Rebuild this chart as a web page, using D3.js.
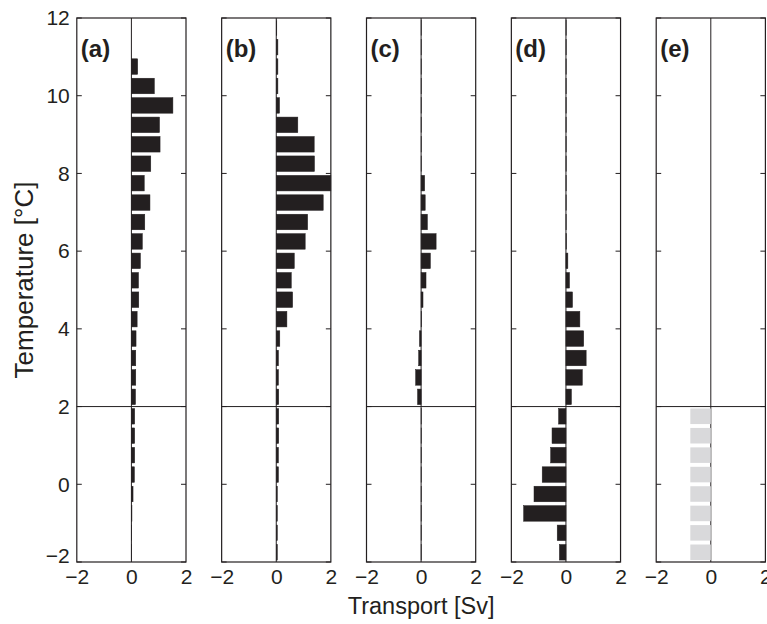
<!DOCTYPE html>
<html>
<head>
<meta charset="utf-8">
<script src="https://cdn.jsdelivr.net/npm/d3@7"></script>
<style>
  html, body { margin: 0; padding: 0; background: #fff; }
  svg text { font-family: "Liberation Sans", Arial, Helvetica, sans-serif; fill: #231f20; }
</style>
</head>
<body>
<svg id="chart" width="767" height="624"></svg>
<script>
// Temperature bin centres (°C), 0.5 °C bins from top to bottom
const tempBins = [11.75, 11.25, 10.75, 10.25, 9.75, 9.25, 8.75, 8.25, 7.75, 7.25,
                  6.75, 6.25, 5.75, 5.25, 4.75, 4.25, 3.75, 3.25, 2.75, 2.25,
                  1.75, 1.25, 0.75, 0.25, -0.25, -0.75, -1.25, -1.75];

// Transport per temperature bin (Sv), one series per panel
const transportA = [0, 0, 0.23, 0.84, 1.52, 1.03, 1.05, 0.71, 0.47, 0.68,
                    0.49, 0.40, 0.33, 0.26, 0.27, 0.21, 0.17, 0.16, 0.16, 0.15,
                    0.12, 0.12, 0.12, 0.11, 0.06, 0.02, 0.01, 0.01];
const transportB = [0.02, 0.06, 0.06, 0.06, 0.12, 0.79, 1.39, 1.40, 2.00, 1.72,
                    1.15, 1.06, 0.66, 0.55, 0.60, 0.39, 0.13, 0.08, 0.08, 0.09,
                    0.09, 0.09, 0.08, 0.08, 0.04, 0.04, 0.04, 0.04];
const transportC = [0.01, 0.01, 0.01, 0.01, 0.01, 0.01, 0.01, 0.01, 0.13, 0.15,
                    0.23, 0.55, 0.34, 0.18, 0.07, 0.02, -0.06, -0.09, -0.20, -0.13,
                    0.01, 0.01, 0.01, 0.01, 0.01, 0.01, 0.01, 0.01];
const transportD = [0.01, 0.01, 0.01, 0.01, 0.01, 0.01, 0.01, 0.01, 0.01, 0.01,
                    0.01, 0.02, 0.07, 0.13, 0.24, 0.51, 0.65, 0.74, 0.60, 0.20,
                    -0.27, -0.51, -0.56, -0.87, -1.17, -1.55, -0.32, -0.24];
const transportE = [null, null, null, null, null, null, null, null, null, null,
                    null, null, null, null, null, null, null, null, null, null,
                    -0.75, -0.75, -0.75, -0.75, -0.75, -0.75, -0.75, -0.75];

const panelLabels = ["(a)", "(b)", "(c)", "(d)", "(e)"];
const panelSeries = [transportA, transportB, transportC, transportD, transportE];
const panelColors = ["#231f20", "#231f20", "#231f20", "#231f20", "#d9d9db"];

const xTicks = [-2, 0, 2];
const yTicks = [-2, 0, 2, 4, 6, 8, 10, 12];
const xDomain = [-2, 2];
const yDomain = [-2, 12];
const splitTemp = 2;      // horizontal reference line
const barHalf = 0.2;      // half bar thickness in °C (bar width 0.8 of a 0.5 °C bin)

// Layout
const plotTop = 18, plotBottom = 562;
const firstLeft = 76.8, panelW = 109.2, step = 144.85;
const ink = "#231f20";
const tickFont = 21;

const svg = d3.select("#chart");
const y = d3.scaleLinear().domain(yDomain).range([plotBottom, plotTop]);
const fmt = d => (d < 0 ? "\u2212" + Math.abs(d) : String(d));

panelSeries.forEach((series, i) => {
  const left = firstLeft + i * step;
  const x = d3.scaleLinear().domain(xDomain).range([left, left + panelW]);
  const g = svg.append("g");

  // zero-transport line
  g.append("line")
    .attr("x1", x(0)).attr("x2", x(0)).attr("y1", plotTop).attr("y2", plotBottom)
    .attr("stroke", ink).attr("stroke-width", 1);

  // bars
  const rows = tempBins.map((t, k) => ({ t, v: series[k] })).filter(d => d.v !== null);
  g.selectAll("rect.bar").data(rows).join("rect")
    .attr("class", "bar")
    .attr("x", d => x(Math.min(0, d.v)))
    .attr("width", d => Math.abs(x(d.v) - x(0)))
    .attr("y", d => y(d.t + barHalf))
    .attr("height", d => y(d.t - barHalf) - y(d.t + barHalf))
    .attr("fill", panelColors[i])
    .attr("stroke", i < 4 ? panelColors[i] : "none")
    .attr("stroke-width", 0.5);

  // line at 2 °C
  g.append("line")
    .attr("x1", x(-2)).attr("x2", x(2)).attr("y1", y(splitTemp)).attr("y2", y(splitTemp))
    .attr("stroke", ink).attr("stroke-width", 1);

  // inner tick marks on both sides
  const tickLen = 5;
  yTicks.forEach(t => {
    g.append("line").attr("x1", x(-2)).attr("x2", x(-2) + tickLen)
      .attr("y1", y(t)).attr("y2", y(t)).attr("stroke", ink).attr("stroke-width", 1);
    g.append("line").attr("x1", x(2) - tickLen).attr("x2", x(2))
      .attr("y1", y(t)).attr("y2", y(t)).attr("stroke", ink).attr("stroke-width", 1);
  });

  // frame
  g.append("rect")
    .attr("x", x(-2)).attr("y", plotTop)
    .attr("width", x(2) - x(-2)).attr("height", plotBottom - plotTop)
    .attr("fill", "none").attr("stroke", ink).attr("stroke-width", 1.2);

  // x tick labels
  const xAxis = d3.axisBottom(x).tickValues(xTicks).tickSize(0).tickPadding(7).tickFormat(fmt);
  const ax = svg.append("g").attr("transform", `translate(0,${plotBottom})`).call(xAxis);
  ax.select(".domain").remove();
  ax.selectAll("text").attr("font-size", tickFont).attr("font-family", null).attr("fill", ink);

  // panel letter
  g.append("text")
    .attr("x", left + 4).attr("y", 57)
    .attr("font-size", 24).attr("font-weight", "bold")
    .text(panelLabels[i]);
});

// y axis labels on the first panel
const yAxis = d3.axisLeft(y).tickValues(yTicks).tickSize(0).tickPadding(7).tickFormat(fmt);
const ay = svg.append("g").attr("transform", `translate(${firstLeft},0)`).call(yAxis);
ay.select(".domain").remove();
ay.selectAll("text").attr("font-size", tickFont).attr("font-family", null).attr("fill", ink);
ay.selectAll(".tick").filter(d => d === -2).select("text").attr("y", -6);

// axis titles
svg.append("text")
  .attr("x", firstLeft + 2 * step + panelW / 2).attr("y", 614)
  .attr("text-anchor", "middle").attr("font-size", 23.5)
  .text("Transport [Sv]");

svg.append("text")
  .attr("transform", `translate(33,280) rotate(-90)`)
  .attr("text-anchor", "middle").attr("font-size", 26)
  .text("Temperature [\u00B0C]");
</script>
</body>
</html>
